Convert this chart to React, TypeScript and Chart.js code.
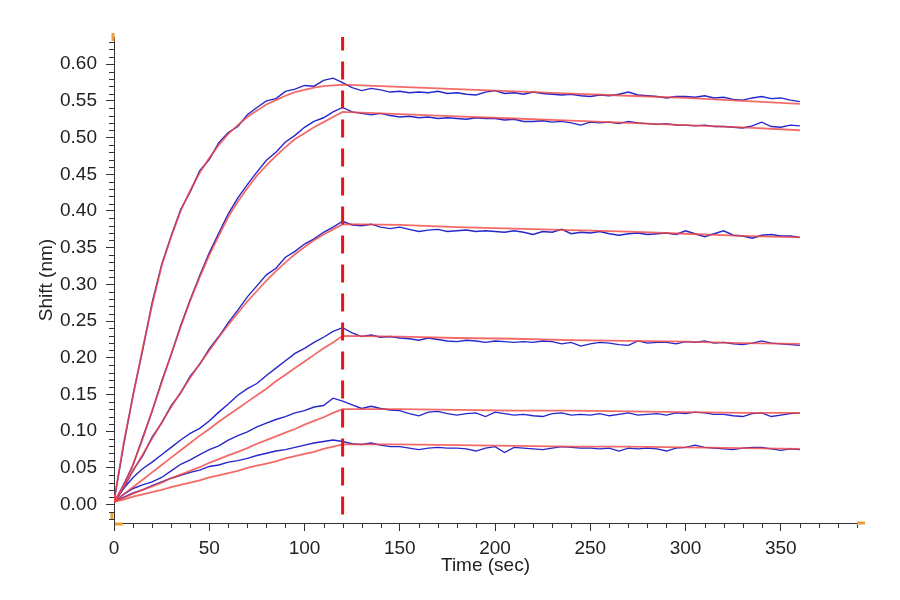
import React, { useEffect, useRef } from 'react';
import { Chart, registerables } from 'chart.js';

Chart.register(...registerables);

// sample times (sec) of the measured traces
const time = [
  0, 5, 10, 15, 20, 25, 30, 35, 40, 45, 50, 55, 60, 65, 70, 75, 80, 85, 90, 95, 100, 105, 110, 115, 120,
  125, 130, 135, 140, 145, 150, 155, 160, 165, 170, 175, 180, 185, 190, 195, 200, 205, 210, 215, 220,
  225, 230, 235, 240, 245, 250, 255, 260, 265, 270, 275, 280, 285, 290, 295, 300, 305, 310, 315, 320,
  325, 330, 335, 340, 345, 350, 355, 360,
];

// times of the fitted curves
const fitTime = [
  0, 5, 10, 15, 20, 25, 30, 35, 40, 45, 50, 55, 60, 65, 70, 75, 80, 85, 90, 95, 100, 105, 110, 115, 120,
  150, 180, 210, 240, 270, 300, 330, 360,
];

// measured shift (nm), one trace per concentration
const shift1 = [
  0.004, 0.080, 0.150, 0.210, 0.275, 0.327, 0.366, 0.402, 0.426, 0.455, 0.470, 0.493, 0.507, 0.515, 0.531, 0.541, 0.550, 0.553, 0.563, 0.566, 0.571, 0.570, 0.578, 0.581, 0.575,
  0.568, 0.564, 0.567, 0.565, 0.562, 0.563, 0.561, 0.562, 0.561, 0.563,
  0.560, 0.561, 0.559, 0.558, 0.562, 0.564, 0.560, 0.561, 0.559, 0.562,
  0.560, 0.559, 0.558, 0.559, 0.557, 0.556, 0.558, 0.557, 0.559, 0.562,
  0.558, 0.557, 0.556, 0.554, 0.556, 0.556, 0.555, 0.557, 0.554, 0.555,
  0.552, 0.551, 0.554, 0.556, 0.553, 0.554, 0.551, 0.549,
];
const shift2 = [
  0.003, 0.027, 0.054, 0.091, 0.127, 0.168, 0.204, 0.244, 0.279, 0.312, 0.343, 0.370, 0.396, 0.418, 0.436, 0.453, 0.469, 0.480, 0.494, 0.503, 0.514, 0.522, 0.527, 0.535, 0.541,
  0.535, 0.533, 0.531, 0.533, 0.530, 0.528, 0.529, 0.527, 0.528, 0.526,
  0.527, 0.526, 0.525, 0.527, 0.526, 0.526, 0.524, 0.525, 0.522, 0.522,
  0.523, 0.521, 0.522, 0.520, 0.517, 0.521, 0.520, 0.521, 0.519, 0.522,
  0.520, 0.519, 0.518, 0.519, 0.517, 0.517, 0.516, 0.517, 0.515, 0.515,
  0.514, 0.513, 0.516, 0.521, 0.515, 0.514, 0.517, 0.516,
];
const shift3 = [
  0.003, 0.022, 0.047, 0.066, 0.092, 0.111, 0.135, 0.152, 0.175, 0.191, 0.212, 0.229, 0.248, 0.265, 0.283, 0.298, 0.313, 0.322, 0.337, 0.345, 0.355, 0.362, 0.371, 0.378, 0.386,
  0.381, 0.380, 0.382, 0.378, 0.376, 0.378, 0.375, 0.372, 0.374, 0.375,
  0.372, 0.373, 0.374, 0.372, 0.373, 0.372, 0.371, 0.373, 0.371, 0.368,
  0.372, 0.371, 0.375, 0.369, 0.371, 0.370, 0.372, 0.369, 0.367, 0.369,
  0.370, 0.368, 0.369, 0.370, 0.368, 0.373, 0.369, 0.365, 0.369, 0.373,
  0.367, 0.366, 0.363, 0.367, 0.368, 0.366, 0.366, 0.364,
];
const shift4 = [
  0.003, 0.022, 0.037, 0.049, 0.058, 0.068, 0.078, 0.088, 0.097, 0.104, 0.114, 0.126, 0.137, 0.149, 0.158, 0.165, 0.176, 0.186, 0.196, 0.206, 0.213, 0.221, 0.228, 0.236, 0.241,
  0.234, 0.229, 0.231, 0.228, 0.229, 0.227, 0.226, 0.224, 0.227, 0.225,
  0.223, 0.222, 0.224, 0.223, 0.221, 0.223, 0.222, 0.221, 0.222, 0.221,
  0.223, 0.222, 0.219, 0.221, 0.216, 0.219, 0.221, 0.220, 0.218, 0.217,
  0.223, 0.220, 0.221, 0.221, 0.219, 0.222, 0.221, 0.223, 0.220, 0.221,
  0.219, 0.218, 0.220, 0.223, 0.220, 0.219, 0.218, 0.217,
];
const shift5 = [
  0.003, 0.014, 0.022, 0.027, 0.031, 0.037, 0.046, 0.055, 0.061, 0.068, 0.075, 0.080, 0.088, 0.094, 0.099, 0.106, 0.111, 0.116, 0.120, 0.125, 0.128, 0.133, 0.135, 0.145, 0.141,
  0.136, 0.131, 0.134, 0.131, 0.129, 0.128, 0.124, 0.121, 0.126, 0.127,
  0.124, 0.122, 0.124, 0.125, 0.120, 0.126, 0.124, 0.122, 0.123, 0.121,
  0.120, 0.124, 0.125, 0.122, 0.123, 0.122, 0.124, 0.121, 0.123, 0.125,
  0.122, 0.123, 0.124, 0.122, 0.125, 0.124, 0.126, 0.125, 0.123, 0.123,
  0.121, 0.120, 0.124, 0.125, 0.120, 0.122, 0.124, 0.125,
];
const shift6 = [
  0.003, 0.010, 0.016, 0.020, 0.026, 0.031, 0.036, 0.040, 0.044, 0.047, 0.052, 0.054, 0.058, 0.060, 0.063, 0.067, 0.070, 0.073, 0.075, 0.078, 0.081, 0.084, 0.086, 0.088, 0.086,
  0.083, 0.082, 0.084, 0.081, 0.079, 0.079, 0.077, 0.075, 0.077, 0.078,
  0.077, 0.077, 0.076, 0.073, 0.077, 0.079, 0.071, 0.078, 0.077, 0.076,
  0.075, 0.077, 0.079, 0.078, 0.077, 0.077, 0.076, 0.077, 0.073, 0.077,
  0.076, 0.077, 0.076, 0.073, 0.077, 0.078, 0.081, 0.078, 0.077, 0.076,
  0.075, 0.077, 0.078, 0.078, 0.076, 0.074, 0.076, 0.075,
];

// global fit curves
const fit1 = [
  0.005, 0.083, 0.148, 0.212, 0.272, 0.325, 0.365, 0.400, 0.428, 0.452, 0.472, 0.490, 0.505, 0.517, 0.528, 0.537, 0.545, 0.551, 0.557, 0.562, 0.565, 0.568, 0.570, 0.571, 0.572,
  0.569, 0.566, 0.563, 0.560, 0.557, 0.554, 0.550, 0.546,
];
const fit2 = [
  0.004, 0.025, 0.055, 0.089, 0.128, 0.166, 0.205, 0.242, 0.278, 0.310, 0.340, 0.366, 0.392, 0.413, 0.431, 0.448, 0.462, 0.475, 0.487, 0.498, 0.506, 0.514, 0.521, 0.528, 0.535,
  0.532, 0.529, 0.526, 0.523, 0.520, 0.517, 0.514, 0.510,
];
const fit3 = [
  0.004, 0.024, 0.046, 0.068, 0.090, 0.112, 0.133, 0.153, 0.173, 0.192, 0.210, 0.228, 0.245, 0.261, 0.277, 0.291, 0.305, 0.318, 0.330, 0.341, 0.351, 0.360, 0.368, 0.375, 0.382,
  0.381, 0.378, 0.376, 0.374, 0.372, 0.369, 0.366, 0.364,
];
const fit4 = [
  0.004, 0.014, 0.024, 0.034, 0.044, 0.054, 0.064, 0.074, 0.084, 0.094, 0.103, 0.113, 0.122, 0.131, 0.140, 0.149, 0.158, 0.168, 0.177, 0.186, 0.195, 0.204, 0.213, 0.221, 0.230,
  0.229, 0.227, 0.226, 0.224, 0.223, 0.222, 0.220, 0.219,
];
const fit5 = [
  0.004, 0.009, 0.015, 0.020, 0.025, 0.030, 0.036, 0.041, 0.046, 0.051, 0.057, 0.062, 0.067, 0.072, 0.077, 0.083, 0.088, 0.093, 0.098, 0.103, 0.109, 0.114, 0.119, 0.125, 0.130,
  0.130, 0.129, 0.128, 0.128, 0.127, 0.126, 0.125, 0.125,
];
const fit6 = [
  0.004, 0.007, 0.011, 0.014, 0.017, 0.020, 0.024, 0.027, 0.030, 0.033, 0.037, 0.040, 0.043, 0.046, 0.050, 0.053, 0.056, 0.059, 0.063, 0.066, 0.069, 0.072, 0.076, 0.079, 0.082,
  0.082, 0.081, 0.080, 0.079, 0.079, 0.078, 0.077, 0.076,
];

// association -> dissociation switch (drawn top to bottom)
const switchTime = [120, 120];
const switchShift = [0.643, -0.03];

const traces = [shift1, shift2, shift3, shift4, shift5, shift6];
const fits = [fit1, fit2, fit3, fit4, fit5, fit6];

const FONT = "'Liberation Sans', Arial, sans-serif";

const toPoints = (xs: number[], ys: number[]) => xs.map((x, i) => ({ x, y: ys[i] }));

// minor ticks + the little orange handles at the axis ends
const axisDecor = {
  id: 'axisDecor',
  afterDraw(chart: any) {
    const { ctx, chartArea, scales } = chart;
    const { left, right, top, bottom } = chartArea;
    ctx.save();
    ctx.strokeStyle = '#333';
    ctx.lineWidth = 1;
    ctx.beginPath();
    for (let h = -2; h <= 63; h++) {
      if (h % 5 === 0) continue;
      const py = Math.round(scales.y.getPixelForValue(h / 100)) + 0.5;
      ctx.moveTo(left - 5, py);
      ctx.lineTo(left, py);
    }
    for (let t = 10; t <= 390; t += 10) {
      if (t % 50 === 0) continue;
      const px = Math.round(scales.x.getPixelForValue(t)) + 0.5;
      ctx.moveTo(px, bottom);
      ctx.lineTo(px, bottom + 5);
    }
    ctx.stroke();

    ctx.strokeStyle = '#eaa03a';
    ctx.lineWidth = 3;
    ctx.beginPath();
    ctx.moveTo(left - 1, top - 4);
    ctx.lineTo(left - 1, top + 4);
    ctx.moveTo(left - 2, bottom - 10);
    ctx.lineTo(left - 2, bottom - 4);
    ctx.moveTo(left + 1, bottom + 1);
    ctx.lineTo(left + 9, bottom + 1);
    ctx.moveTo(right, bottom);
    ctx.lineTo(right + 8, bottom);
    ctx.stroke();
    ctx.restore();
  },
};

const App: React.FC = () => {
  const chartRef = useRef<HTMLCanvasElement>(null);

  useEffect(() => {
    if (!chartRef.current) return;

    const traceSets = traces.map((ys, i) => ({
      label: `Trace ${i + 1}`,
      data: toPoints(time, ys),
      borderColor: '#2626cc',
      borderWidth: 1.4,
      pointRadius: 0,
      tension: 0,
      order: 2,
    }));
    const fitSets = fits.map((ys, i) => ({
      label: `Fit ${i + 1}`,
      data: toPoints(fitTime, ys),
      borderColor: 'rgba(240, 70, 66, 0.8)',
      borderWidth: 1.8,
      pointRadius: 0,
      tension: 0,
      order: 1,
    }));

    const chart = new Chart(chartRef.current, {
      type: 'line',
      data: {
        datasets: [
          {
            label: 'Dissociation start',
            data: toPoints(switchTime, switchShift),
            borderColor: '#e4141c',
            borderWidth: 3,
            borderDash: [18, 11],
            pointRadius: 0,
            order: 0,
          },
          ...fitSets,
          ...traceSets,
        ],
      },
      options: {
        responsive: true,
        maintainAspectRatio: false,
        animation: false,
        layout: { padding: { left: 0, right: 43, top: 37, bottom: 0 } },
        plugins: {
          legend: { display: false },
          tooltip: { enabled: false },
        },
        scales: {
          x: {
            type: 'linear',
            min: 0,
            max: 390,
            afterFit: (scale: any) => {
              scale.height = 77;
            },
            border: { display: true, color: '#333', width: 1 },
            grid: { drawOnChartArea: false, drawTicks: true, tickLength: 8, color: '#333' },
            ticks: {
              stepSize: 50,
              includeBounds: false,
              padding: 6,
              color: '#222',
              font: { family: FONT, size: 19 },
              maxRotation: 0,
            },
            title: {
              display: true,
              text: 'Time (sec)',
              color: '#222',
              font: { family: FONT, size: 19 },
              padding: { top: 0, bottom: 23 },
            },
          },
          y: {
            type: 'linear',
            min: -0.025,
            max: 0.637,
            afterFit: (scale: any) => {
              scale.width = 114;
            },
            border: { display: true, color: '#333', width: 1 },
            grid: { drawOnChartArea: false, drawTicks: true, tickLength: 8, color: '#333' },
            ticks: {
              stepSize: 0.05,
              includeBounds: false,
              padding: 9,
              color: '#222',
              font: { family: FONT, size: 19 },
              callback: (v: any) => Number(v).toFixed(2),
            },
            title: {
              display: true,
              text: 'Shift (nm)',
              color: '#222',
              font: { family: FONT, size: 19 },
              padding: { top: 35, bottom: 0 },
            },
          },
        },
      },
      plugins: [axisDecor],
    });

    return () => chart.destroy();
  }, []);

  return (
    <div style={{ position: 'fixed', left: 0, top: 0, width: 900, height: 600, background: '#fff' }}>
      <canvas ref={chartRef}></canvas>
    </div>
  );
};

export default App;
